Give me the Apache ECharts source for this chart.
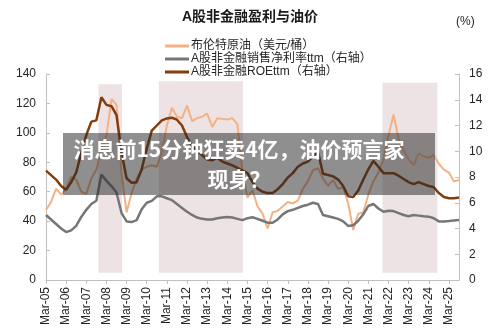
<!DOCTYPE html>
<html>
<head>
<meta charset="utf-8">
<script src="https://cdn.jsdelivr.net/npm/echarts@6/dist/echarts.min.js"></script>
<style>html,body{margin:0;padding:0;background:#fff;}#c{width:500px;height:330px;}</style>
</head>
<body>
<div id="c"></div>
<script>
// quarterly categories Mar-05 .. Sep-25
const years = ['05','06','07','08','09','10','11','12','13','14','15','16','17','18','19','20','21','22','23','24','25'];
const months = ['Mar','Jun','Sep','Dec'];
const categories = [];
years.forEach(y => months.forEach(m => { if (!(y === '25' && m === 'Dec')) categories.push(m + '-' + y); }));

// 布伦特原油（美元/桶）
const oil = [47.6,53,62,58, 62,70,68,60, 58.5,69,75,88, 98,123,119,72, 46,59,69,75,
  77,78,77,87, 105,117,111,110, 118.5,108,110,111, 113,104,110,109.5, 109,110,106,74,
  56,61,50,45, 35,46,47,50, 53,52,54,62, 67,74.5,76,69, 64,68,62,63,
  52,34,45,46, 58,67,73,82, 98,112.5,96,88, 82,78,86,84, 83,85,79,75, 73,67,68];
// A股非金融销售净利率ttm（右轴）
const margin = [5.05,4.7,4.35,4.0, 3.72,3.85,4.2,4.9, 5.45,5.9,6.15,8.2, 7.7,7.3,6.8,5.2, 4.55,4.5,4.65,5.5,
  6.0,6.15,6.5,6.5, 6.35,6.2,5.9,5.6, 5.3,5.05,4.85,4.75, 4.7,4.7,4.8,4.85, 4.9,4.85,4.75,4.65,
  4.8,4.87,4.75,4.6, 4.45,4.45,4.7,5.1, 5.35,5.45,5.6,5.75, 5.85,6.0,5.9,5.05, 4.95,4.85,4.75,4.55,
  4.2,4.25,4.6,5.1, 5.75,5.9,5.55,5.3, 5.38,5.35,5.2,5.05, 4.95,5.05,5.0,4.95, 4.92,4.8,4.55,4.55, 4.58,4.62,4.66];
// A股非金融ROEttm（右轴）
const roe = [8.5,8.15,7.8,7.3, 7.0,7.6,8.35,9.85, 11.25,12.3,12.4,14.2, 13.6,13.5,12.8,9.9, 7.9,7.55,7.6,8.6,
  10.2,11.6,12.0,12.4, 12.55,12.6,12.45,12.0, 11.1,10.4,10.0,9.7, 9.35,9.3,9.5,9.2, 9.05,8.9,8.7,8.5,
  8.3,7.6,7.1,6.85, 6.75,6.75,7.05,7.45, 7.95,8.3,8.8,9.05, 9.2,9.6,9.95,8.25, 8.15,8.05,7.8,7.3,
  6.5,6.45,6.95,7.8, 8.6,9.25,8.8,8.3, 8.3,8.3,8.1,7.85, 7.6,7.45,7.6,7.45, 7.3,7.2,6.75,6.45, 6.35,6.35,6.4];

// shaded periods: [start quarter index, end quarter index, top value on left axis]
const bandStart = [10.4, 22.4, 66.8];
const bandEnd = [15.1, 39.1, 77.7];
const bandTop = [133, 135, 134];
const bandBottom = 5;

const leftTicks = {min: 0, max: 140, interval: 20};
const rightTicks = {min: 0, max: 16, interval: 2};

const FONT = '"Liberation Sans", "Noto Sans CJK SC", sans-serif';
const AXIS_COLOR = '#bfbfbf';
const TEXT_COLOR = '#262626';

const chart = echarts.init(document.getElementById('c'), null, {renderer: 'canvas'});

const bandData = bandStart.map((s, k) => [
  {xAxis: s, yAxis: bandBottom},
  {xAxis: bandEnd[k], yAxis: bandTop[k]}
]);

chart.setOption({
  animation: false,
  backgroundColor: '#fff',
  textStyle: {fontFamily: FONT},
  title: {
    text: 'A股非金融盈利与油价',
    left: 'center',
    top: 5,
    textStyle: {fontSize: 14, fontWeight: 'bold', color: '#1a1a1a', fontFamily: FONT}
  },
  legend: {
    orient: 'vertical',
    left: 160,
    top: 35,
    itemWidth: 24,
    itemHeight: 3,
    itemGap: 1,
    icon: 'rect',
    textStyle: {fontSize: 12, color: TEXT_COLOR, fontFamily: FONT, padding: [0, 0, 0, -3]},
    data: ['布伦特原油（美元/桶）', 'A股非金融销售净利率ttm（右轴）', 'A股非金融ROEttm（右轴）']
  },
  grid: {left: 46, right: 41, top: 74, bottom: 50, containLabel: false},
  xAxis: [{
    type: 'category',
    data: categories,
    boundaryGap: false,
    axisLine: {lineStyle: {color: AXIS_COLOR, width: 1}},
    axisTick: {show: true, interval: 3, length: 4, inside: false, lineStyle: {color: AXIS_COLOR}},
    axisLabel: {interval: 3, rotate: 90, fontSize: 12, color: TEXT_COLOR, margin: 7, fontFamily: FONT},
    splitLine: {show: false}
  }, {
    type: 'value',
    min: 0,
    max: categories.length - 1,
    show: false
  }],
  yAxis: [{
    type: 'value',
    min: leftTicks.min, max: leftTicks.max, interval: leftTicks.interval,
    axisLine: {show: true, lineStyle: {color: AXIS_COLOR}},
    axisTick: {show: true, inside: true, length: 4, lineStyle: {color: AXIS_COLOR}},
    axisLabel: {fontSize: 12, color: TEXT_COLOR, margin: 10, fontFamily: FONT},
    splitLine: {show: false}
  }, {
    type: 'value',
    min: rightTicks.min, max: rightTicks.max, interval: rightTicks.interval,
    position: 'right',
    axisLine: {show: true, lineStyle: {color: AXIS_COLOR}},
    axisTick: {show: true, inside: true, length: 4, lineStyle: {color: AXIS_COLOR}},
    axisLabel: {fontSize: 12, color: TEXT_COLOR, margin: 10, fontFamily: FONT},
    splitLine: {show: false}
  }],
  series: [{
    name: 'bands',
    type: 'line',
    xAxisIndex: 1,
    yAxisIndex: 0,
    data: [[0, -10]],
    showSymbol: false,
    lineStyle: {opacity: 0},
    silent: true,
    z: 1,
    markArea: {
      silent: true,
      itemStyle: {color: '#ede3e4'},
      data: bandData
    }
  }, {
    name: '布伦特原油（美元/桶）',
    type: 'line',
    data: oil,
    yAxisIndex: 0,
    showSymbol: false,
    symbol: 'none',
    color: '#f4b183',
    lineStyle: {width: 2, color: '#f4b183'},
    z: 3
  }, {
    name: 'A股非金融销售净利率ttm（右轴）',
    type: 'line',
    data: margin,
    yAxisIndex: 1,
    showSymbol: false,
    symbol: 'none',
    color: '#767676',
    lineStyle: {width: 2.5, color: '#767676'},
    z: 4
  }, {
    name: 'A股非金融ROEttm（右轴）',
    type: 'line',
    data: roe,
    yAxisIndex: 1,
    showSymbol: false,
    symbol: 'none',
    color: '#843c0c',
    lineStyle: {width: 2.5, color: '#843c0c'},
    z: 5
  }],
  graphic: [{
    type: 'text',
    left: 456,
    top: 16,
    style: {text: '(%)', fontSize: 12, fill: TEXT_COLOR, fontFamily: FONT}
  }, {
    type: 'rect',
    z: 100,
    shape: {x: 63, y: 133, width: 372, height: 62},
    style: {fill: 'rgba(40,40,40,0.52)'}
  }, {
    type: 'text',
    z: 101,
    x: 239, y: 149,
    style: {
      text: '消息前15分钟狂卖4亿，油价预言家',
      align: 'center', verticalAlign: 'middle',
      fill: '#ffffff',
      font: 'bold 21px "Noto Sans CJK SC", sans-serif'
    }
  }, {
    type: 'text',
    z: 101,
    x: 239, y: 179,
    style: {
      text: '现身？',
      align: 'center', verticalAlign: 'middle',
      fill: '#ffffff',
      font: 'bold 21px "Noto Sans CJK SC", sans-serif'
    }
  }]
});
</script>
</body>
</html>
